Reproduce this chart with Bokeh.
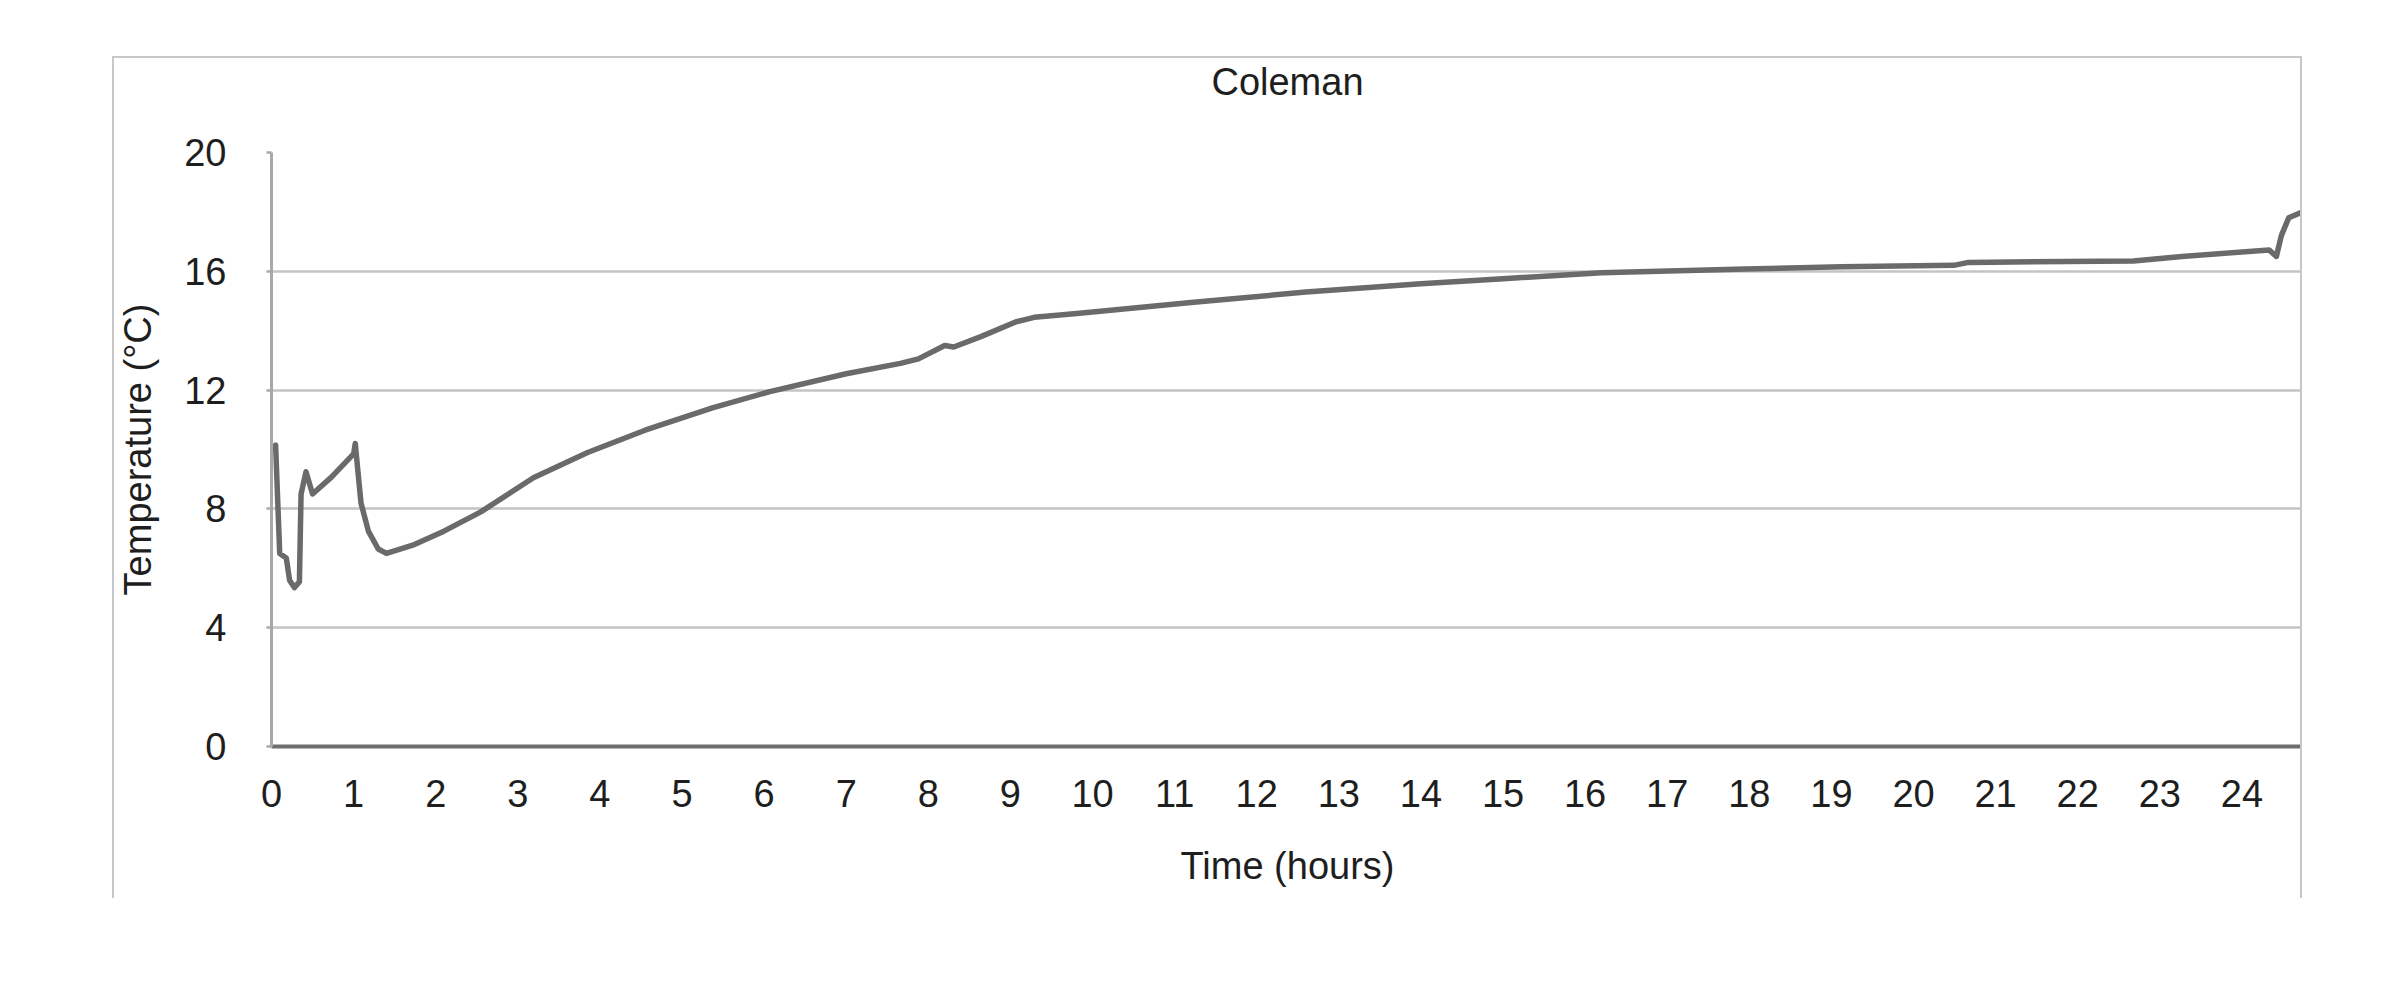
from bokeh.plotting import figure
from bokeh.models import Range1d, FixedTicker, Title
from bokeh.embed import file_html
from bokeh.resources import INLINE

# ---- data ----
hours = [0.00, 0.05, 0.10, 0.18, 0.22, 0.28, 0.34, 0.36, 0.42, 0.50, 0.73, 1.00,
         1.02, 1.09, 1.18, 1.30, 1.40, 1.74, 2.10, 2.55, 3.19, 3.85, 4.55, 5.37,
         6.07, 7.00, 7.66, 7.88, 8.20, 8.31, 8.64, 9.07, 9.29, 9.81, 11.2, 12.6,
         14.0, 15.0, 16.2, 17.95, 19.13, 20.49, 20.67, 22.68, 23.27, 24.33, 24.42,
         24.48, 24.57, 24.72]
temps = [10.0, 10.15, 6.5, 6.35, 5.6, 5.35, 5.55, 8.5, 9.25, 8.5, 9.07, 9.85,
         10.2, 8.2, 7.25, 6.65, 6.5, 6.8, 7.25, 7.9, 9.05, 9.9, 10.65, 11.4,
         11.95, 12.55, 12.9, 13.05, 13.5, 13.45, 13.8, 14.3, 14.45, 14.58, 14.95, 15.3,
         15.58, 15.75, 15.95, 16.08, 16.15, 16.2, 16.3, 16.35, 16.5, 16.72, 16.5,
         17.2, 17.8, 17.98]
x_ticks = list(range(0, 25))
y_ticks = [0, 4, 8, 12, 16, 20]
title_text = "Coleman"
x_label = "Time (hours)"
y_label = "Temperature (°C)"

FONT = "Liberation Sans"
TXT = "#1e1e1e"
FRAME = "2.5px solid #c8c8c8"

p = figure(width=2186, height=840, output_backend="svg", toolbar_location=None,
           x_range=Range1d(0, 24.75), y_range=Range1d(0, 20),
           min_border_left=157, min_border_right=1, min_border_top=94,
           min_border_bottom=154)
p.outline_line_color = None
p.background_fill_color = "white"
p.border_fill_color = "white"
# outer light-gray chart box (open at the bottom)
p.styles = {"margin-left": "112px", "margin-top": "56px",
            "border-top": FRAME, "border-left": FRAME, "border-right": FRAME,
            "box-sizing": "content-box"}

# gap between the plotting area and the title
p.add_layout(Title(text=" ", text_font_size="1px", standoff=47), "above")
# chart title (further from the frame)
p.add_layout(Title(text=title_text, align="center", text_font=FONT,
                   text_font_size="38px", text_font_style="normal",
                   text_color=TXT, standoff=0), "above")

# grid
p.xgrid.grid_line_color = None
p.ygrid.ticker = FixedTicker(ticks=y_ticks)
p.ygrid.grid_line_color = "#c4c4c4"
p.ygrid.grid_line_width = 2.5

# x axis
xa = p.xaxis[0]
xa.ticker = FixedTicker(ticks=x_ticks)
xa.axis_line_color = "#6e6e6e"
xa.axis_line_width = 4
xa.major_tick_line_color = None
xa.minor_tick_line_color = None
xa.major_tick_out = 0
xa.major_tick_in = 0
xa.major_label_standoff = 33
xa.major_label_text_font = FONT
xa.major_label_text_font_size = "38px"
xa.major_label_text_color = TXT
xa.axis_label = x_label
xa.axis_label_text_font = FONT
xa.axis_label_text_font_size = "38px"
xa.axis_label_text_font_style = "normal"
xa.axis_label_text_color = TXT
xa.axis_label_standoff = 35

# y axis
ya = p.yaxis[0]
ya.ticker = FixedTicker(ticks=y_ticks)
ya.axis_line_color = "#a8a8a8"
ya.axis_line_width = 3
ya.major_tick_line_color = "#a8a8a8"
ya.major_tick_line_width = 2.5
ya.major_tick_out = 5
ya.major_tick_in = 0
ya.minor_tick_line_color = None
ya.major_label_standoff = 40
ya.major_label_text_font = FONT
ya.major_label_text_font_size = "38px"
ya.major_label_text_color = TXT
ya.axis_label = y_label
ya.axis_label_text_font = FONT
ya.axis_label_text_font_size = "38px"
ya.axis_label_text_font_style = "normal"
ya.axis_label_text_color = TXT
ya.axis_label_standoff = 22

p.line(hours, temps, line_color="#6a6a6a", line_width=5.5, line_join="round")

open("out.html", "w").write(file_html(p, INLINE))
